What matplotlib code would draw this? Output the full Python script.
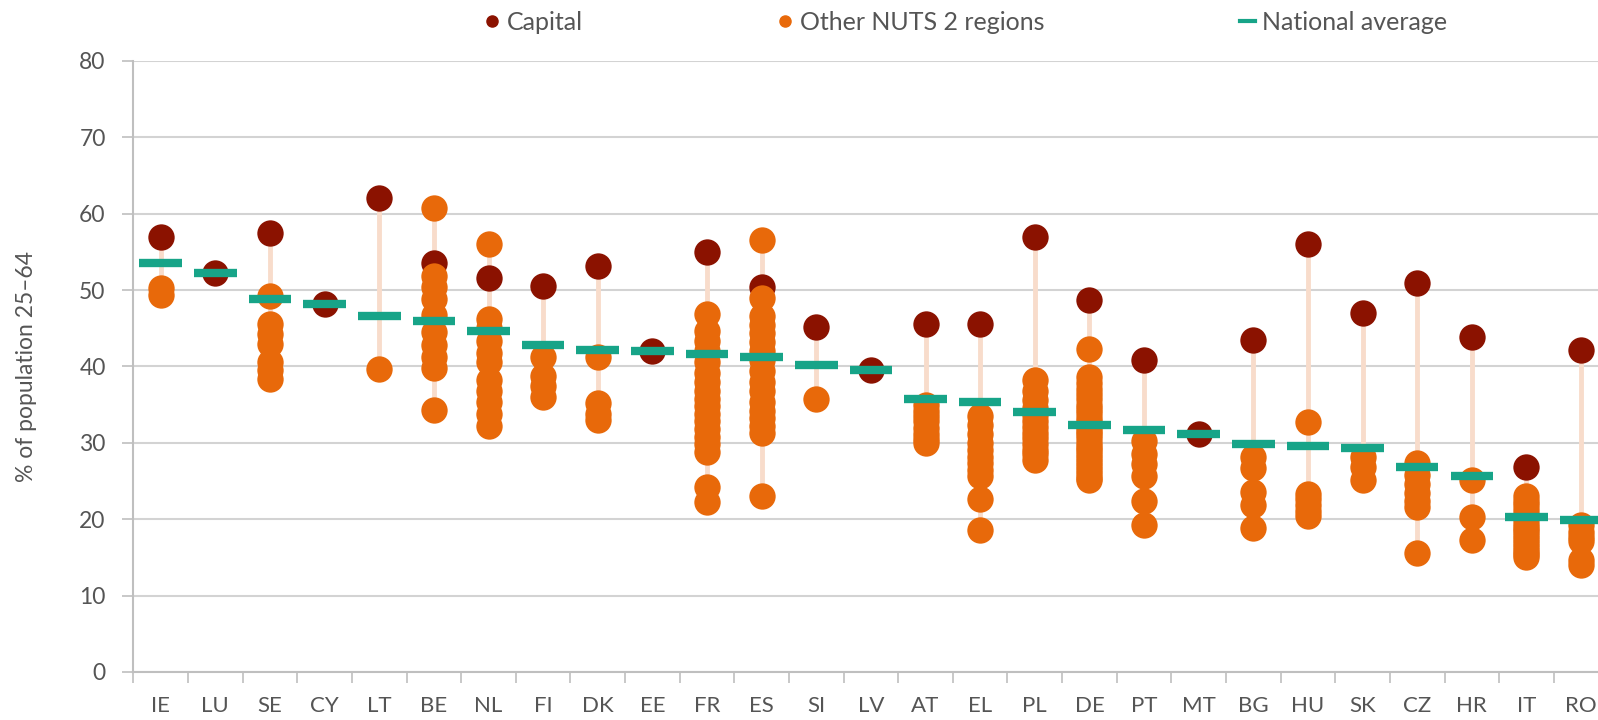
import matplotlib
matplotlib.use("Agg")
import matplotlib.pyplot as plt
from matplotlib.lines import Line2D
import numpy as np

plt.rcParams['font.family'] = ['Lato', 'DejaVu Sans']

# datos
paises = ['IE', 'LU', 'SE', 'CY', 'LT', 'BE', 'NL', 'FI', 'DK', 'EE', 'FR', 'ES', 'SI', 'LV',
          'AT', 'EL', 'PL', 'DE', 'PT', 'MT', 'BG', 'HU', 'SK', 'CZ', 'HR', 'IT', 'RO']
capital = [57.0, 52.3, 57.5, 48.2, 62.1, 53.6, 51.6, 50.5, 53.1, 42.0, 55.0, 50.4, 45.2, 39.5,
           45.6, 45.6, 57.0, 48.7, 40.9, 31.2, 43.5, 56.0, 47.0, 50.9, 43.9, 26.9, 42.2]
promedio = [53.5, 52.3, 48.8, 48.2, 46.6, 45.9, 44.7, 42.8, 42.1, 42.0, 41.6, 41.2, 40.2, 39.5,
            35.7, 35.3, 34.1, 32.3, 31.7, 31.2, 29.8, 29.6, 29.3, 26.8, 25.6, 20.3, 19.9]
otras = [
    [50.3, 49.4],
    [],
    [49.2, 45.6, 44.2, 43.0, 40.6, 39.6, 38.3],
    [],
    [39.7],
    [60.7, 51.8, 50.4, 48.8, 46.8, 44.5, 42.8, 41.3, 39.8, 34.3],
    [56.1, 46.2, 45.0, 43.4, 41.8, 40.6, 38.2, 36.8, 35.3, 33.8, 32.2],
    [41.2, 38.8, 37.4, 36.0],
    [41.2, 35.2, 33.8, 33.0],
    [],
    [46.9, 44.6, 43.4, 42.0, 40.6, 39.2, 38.0, 36.8, 35.8, 34.8, 33.8, 32.8, 31.8, 30.8, 29.8, 28.8, 24.2, 22.2],
    [56.5, 49.0, 46.6, 45.4, 44.4, 43.2, 42.0, 40.8, 39.4, 38.0, 36.8, 35.4, 34.2, 33.2, 32.2, 31.3, 23.0],
    [35.7],
    [],
    [35.0, 34.2, 33.5, 32.8, 32.0, 31.2, 30.5, 30.0],
    [33.5, 32.4, 31.2, 30.0, 29.0, 28.2, 27.4, 26.5, 25.7, 22.6, 18.6],
    [38.2, 36.8, 35.6, 34.6, 33.7, 32.9, 32.1, 31.3, 30.6, 29.8, 29.1, 28.5, 27.8],
    [42.3, 38.6, 37.8, 37.0, 36.4, 35.7, 35.0, 34.4, 33.9, 33.3, 32.7, 32.1, 31.6, 31.1, 30.6,
     30.0, 29.5, 29.1, 28.6, 28.0, 27.5, 27.0, 26.4, 25.9, 25.4, 25.1],
    [30.2, 28.6, 27.2, 25.6, 22.4, 19.2],
    [],
    [28.2, 26.7, 23.5, 21.8, 18.9],
    [32.7, 23.3, 22.6, 21.8, 21.1, 20.4],
    [28.2, 26.9, 25.1],
    [27.3, 25.8, 24.6, 23.4, 22.4, 21.6, 15.6],
    [25.2, 20.3, 17.3],
    [23.0, 22.4, 21.8, 21.2, 20.6, 20.0, 19.4, 18.9, 18.4, 17.9, 17.4, 16.9, 16.4, 15.9, 15.4, 15.1],
    [19.2, 18.3, 17.7, 17.2, 14.6, 14.0],
]

colorCapital = '#8B1200'
colorOtras = '#E8690A'
colorPromedio = '#17A488'
colorLinea = '#F8DCCB'
colorTexto = '#555555'
colorGrilla = '#D3D3D3'

fig = plt.figure(figsize=(15.98, 7.2), dpi=100)
ax = fig.add_axes([0.0835, 0.0667, 0.923, 0.8486])

x = np.arange(len(paises))

# lineas verticales min-max
for i in range(len(paises)):
    valores = [capital[i]] + otras[i]
    ax.vlines(x[i], min(valores), max(valores), color=colorLinea, lw=3.5, zorder=1)

ax.scatter(x, capital, s=360, color=colorCapital, linewidths=0, zorder=2)
for i in range(len(paises)):
    if otras[i]:
        ax.scatter([x[i]] * len(otras[i]), otras[i], s=360, color=colorOtras,
                   linewidths=0, zorder=3)
ax.hlines(promedio, x - 0.39, x + 0.39, color=colorPromedio, lw=6, zorder=4)

ax.set_xlim(-0.5, len(paises) - 0.5)
ax.set_ylim(0, 80)
ax.set_yticks(range(0, 81, 10))
ax.set_xticks(x)
ax.set_xticklabels(paises)
ax.set_xticks(np.arange(-0.5, len(paises)), minor=True)
ax.tick_params(axis='x', which='major', length=0, pad=17, labelsize=16, labelcolor=colorTexto)
ax.tick_params(axis='x', which='minor', length=8, width=1.2, color='#bfbfbf')
ax.tick_params(axis='y', length=8, width=1.2, color='#bfbfbf', pad=12, labelsize=16.5, labelcolor=colorTexto)
ax.yaxis.grid(True, color=colorGrilla, lw=1.5)
ax.set_axisbelow(True)
for lado in ['top', 'right']:
    ax.spines[lado].set_visible(False)
for lado in ['left', 'bottom']:
    ax.spines[lado].set_color('#bfbfbf')
    ax.spines[lado].set_linewidth(1.5)
ax.set_ylabel('% of population 25\u201364', fontsize=16.5, color=colorTexto, labelpad=30)

manijas = [
    Line2D([], [], marker='o', ls='none', color=colorCapital, markersize=8),
    Line2D([], [], marker='o', ls='none', color=colorOtras, markersize=8),
    Line2D([], [], ls='-', color=colorPromedio, lw=3),
]
ax.legend(manijas, ['Capital', 'Other NUTS 2 regions', 'National average'],
          loc='center left', bbox_to_anchor=(0.231, 1.063), ncol=3, frameon=False,
          fontsize=18, labelcolor=colorTexto, handlelength=0.6, handletextpad=0.3,
          columnspacing=7.8, borderaxespad=0)

fig.savefig('out.png', dpi=100)
